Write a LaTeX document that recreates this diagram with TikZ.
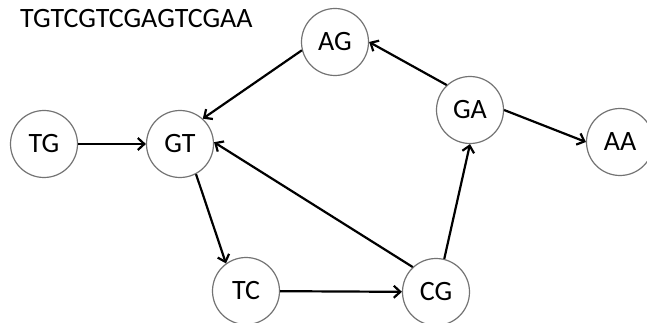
\documentclass[tikz,border=0pt]{standalone}
\usepackage{fontspec}
\setmainfont{Carlito}
\usetikzlibrary{arrows.meta}

\begin{document}
\begin{tikzpicture}[x=1pt, y=-1pt, >={Straight Barb[length=6.5pt, width=12pt]},
  kmer/.style={draw=black!55, line width=1.2pt, circle, minimum size=67pt, inner sep=0pt, font=\fontsize{28}{30}\selectfont},
  edge/.style={->, line width=2.2pt}]
\useasboundingbox (0,0) rectangle (647,323);
\node[anchor=base west, font=\fontsize{28}{30}\selectfont, inner sep=0pt] (seq) at (20,28) {TGTCGTCGAGTCGAA};
\node[kmer] (tg) at (44,144) {TG};
\node[kmer] (gt) at (180,144) {GT};
\node[kmer] (ag) at (335,42) {AG};
\node[kmer] (ga) at (470,110) {GA};
\node[kmer] (aa) at (620,142) {AA};
\node[kmer] (tc) at (246,291) {TC};
\node[kmer] (cg) at (436,292) {CG};
\draw[edge] (tg) -- (gt);
\draw[edge] (ag.194) -- (gt.48);
\draw[edge] (gt.298) -- (tc.126);
\draw[edge] (tc) -- (cg);
\draw[edge] (cg.133) -- (gt.3);
\draw[edge] (cg.76) -- (ga.270);
\draw[edge] (ga.133) -- (ag.0);
\draw[edge] (ga.0) -- (aa.180);
\end{tikzpicture}
\end{document}
